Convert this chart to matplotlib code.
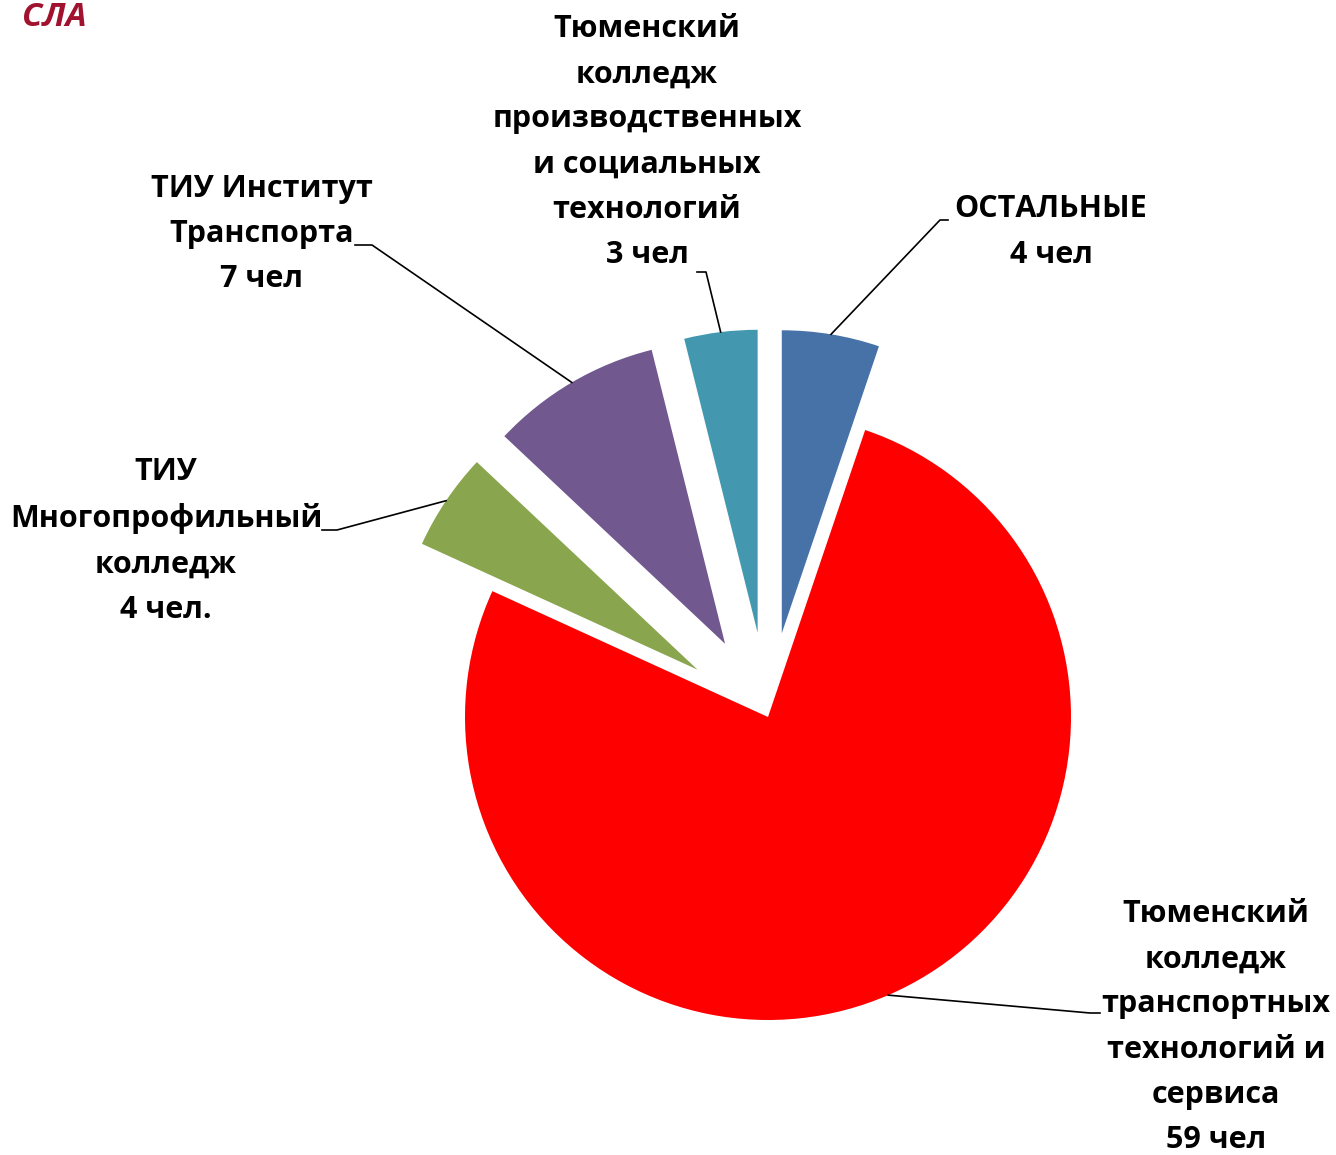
import numpy as np
import matplotlib
matplotlib.use('Agg')
import matplotlib.pyplot as plt

# data (clockwise from 12 o'clock)
names = ['ОСТАЛЬНЫЕ',
         'Тюменский\nколледж\nтранспортных\nтехнологий и\nсервиса',
         'ТИУ\nМногопрофильный\nколледж',
         'ТИУ Институт\nТранспорта',
         'Тюменский\nколледж\nпроизводственных\nи социальных\nтехнологий']
counts = [4, 59, 4, 7, 3]
units = ['чел', 'чел', 'чел.', 'чел', 'чел']
colors = ['#4672A8', '#FF0000', '#89A54E', '#71588F', '#4398AF']
explode = [0.28, 0.0, 0.28, 0.28, 0.28]   # fraction of radius

W, H = 1336, 1155
R = 303


def px(x, y):
    # pixel coords (y down) -> data coords (y up)
    return x, H - y


fig = plt.figure(figsize=(W / 100, H / 100), dpi=100)
ax = fig.add_axes([0, 0, 1, 1])

# pie's explode is in data units, not radius fractions
wedges, _ = ax.pie(counts, colors=colors, explode=[e * R for e in explode],
                   startangle=90, counterclock=False, center=px(768, 717),
                   radius=R, wedgeprops=dict(linewidth=0))
# pie() resets the limits, so set them afterwards
ax.set_xlim(0, W)
ax.set_ylim(0, H)
ax.set_aspect('equal')
ax.axis('off')

# label positions (block centre) and leader elbows, in pixels
label_pos = [(1051, 232), (1216, 1027), (166, 541), (262, 234), (647, 142)]
elbows = [((940, 220), (948, 220)),
          ((1090, 1013), (1100, 1013)),
          ((337, 530), (322, 530)),
          ((372, 245), (355, 245)),
          ((706, 272), (697, 272))]

font = dict(family=['Open Sans', 'DejaVu Sans'], fontweight='bold', fontsize=22)

for w, name, n, u, pos, (e1, e2) in zip(wedges, names, counts, units, label_pos, elbows):
    th = np.deg2rad((w.theta1 + w.theta2) / 2)
    cx, cy = w.center
    ax0 = cx + w.r * np.cos(th)
    ay0 = cy + w.r * np.sin(th)
    x1, y1 = px(*e1)
    x2, y2 = px(*e2)
    ax.plot([ax0, x1, x2], [ay0, y1, y2], color='black', lw=1.2)
    tx, ty = px(*pos)
    ax.text(tx, ty, f'{name}\n{n} {u}', ha='center', va='center',
            multialignment='center', linespacing=1.66, **font)

# fragment of the logo in the corner
ax.text(*px(22, 18), 'СЛА', color='#A0122E', fontsize=24, fontweight='bold',
        style='italic', ha='left', va='center', family=['Open Sans', 'DejaVu Sans'])

fig.savefig('out.png', dpi=100)
